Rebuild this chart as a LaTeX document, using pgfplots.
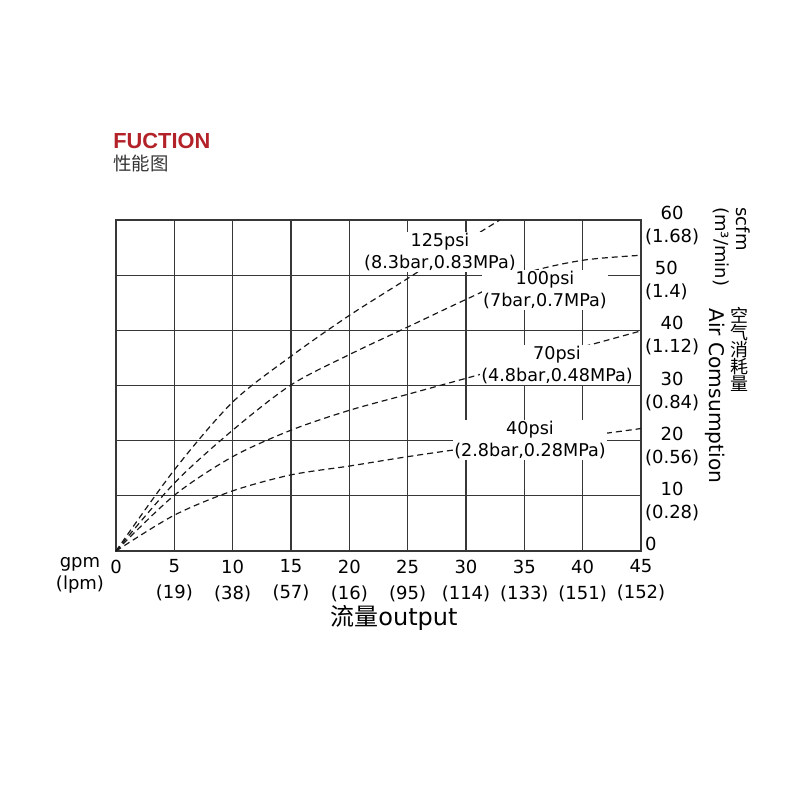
\documentclass[border=0pt]{standalone}
\usepackage{pgfplots}
\pgfplotsset{compat=1.18}
\usepackage{fontspec}
\setmainfont{DejaVu Sans}
\newfontfamily\cjk{Noto Sans CJK SC}
\newfontfamily\titlefont{Liberation Sans}
\definecolor{gridc}{RGB}{55,55,55}
\definecolor{titlered}{RGB}{178,34,40}
\begin{document}
\begin{tikzpicture}[x=1pt,y=1pt]
\path[use as bounding box] (0,0) rectangle (400,400);
\begin{axis}[
  at={(58pt,124.5pt)}, anchor=south west,
  scale only axis, width=262.5pt, height=165.5pt,
  xmin=0, xmax=45, ymin=0, ymax=60,
  xtick={0,5,10,15,20,25,30,35,40,45},
  ytick={0,10,20,30,40,50,60},
  xticklabels={0,{5\\(19)},{10\\(38)},{15\\(57)},{20\\(16)},{25\\(95)},{30\\(114)},{35\\(133)},{40\\(151)},{45\\(152)}},
  yticklabels={{0\\\phantom{(}},{10\\(0.28)},{20\\(0.56)},{30\\(0.84)},{40\\(1.12)},{50\\(1.4)},{60\\(1.68)}},
  yticklabel pos=right,
  grid=major,
  major grid style={gridc, line width=0.65pt},
  axis line style={gridc, line width=0.65pt},
  major tick length=0pt,
  xticklabel style={align=center, font=\fontsize{9}{13}\selectfont, anchor=north, yshift=-0.8pt},
  yticklabel style={align=center, font=\fontsize{9}{11.5}\selectfont, anchor=west, xshift=-1.5pt, yshift=-2.8pt},
  /pgf/number format/assume math mode=true,
  clip=false,
]
% 125 psi
\addplot[smooth, black!90, line width=0.6pt, dash pattern=on 3pt off 2pt] coordinates {
(0,0) (5,14.7) (10,27.0) (15,35.3) (20,42.7) (25,49.4) (30,56.2) (32.9,60)};
% 100 psi
\addplot[smooth, black!90, line width=0.6pt, dash pattern=on 3pt off 2pt] coordinates {
(0,0) (5,12.3) (10,21.9) (15,30.1) (20,35.6) (25,40.6) (30,45.6) (35,50.3) (40,52.7) (45,53.6)};
% 70 psi
\addplot[smooth, black!90, line width=0.6pt, dash pattern=on 3pt off 2pt] coordinates {
(0,0) (5,10.1) (10,17.1) (15,21.9) (20,25.5) (25,28.4) (30,31.3) (35,34.2) (40,37.0) (45,39.9)};
% 40 psi
\addplot[smooth, black!90, line width=0.6pt, dash pattern=on 3pt off 2pt] coordinates {
(0,0) (5,6.5) (10,10.9) (15,13.8) (20,15.4) (25,17.1) (30,18.6) (35,19.7) (40,20.8) (45,22.2)};

\node[fill=white, inner sep=0.5pt, align=center, font=\fontsize{8.8}{11}\selectfont] at (axis cs:27.77,54.2) {125psi\\(8.3bar,0.83MPa)};
\node[fill=white, inner sep=0.5pt, align=center, font=\fontsize{8.8}{11}\selectfont] at (axis cs:36.77,47.3) {100psi\\(7bar,0.7MPa)};
\node[fill=white, inner sep=0.5pt, align=center, font=\fontsize{8.8}{11}\selectfont] at (axis cs:37.8,33.7) {70psi\\(4.8bar,0.48MPa)};
\node[fill=white, inner sep=0.5pt, align=center, font=\fontsize{8.8}{11}\selectfont] at (axis cs:35.49,20.1) {40psi\\(2.8bar,0.28MPa)};
\end{axis}
\node[anchor=base west, inner sep=0, text=titlered, font={\titlefont\bfseries\fontsize{10.9}{13}\selectfont}] at (56.5,325.85) {FUCTION};
\node[anchor=base west, inner sep=0, text=black!80, font={\cjk\fontsize{9.2}{11}\selectfont}] at (56.5,314.5) {性能图};
\node[align=center, inner sep=0, font=\fontsize{9}{11}\selectfont] at (40,112.5) {gpm\\(lpm)};
\node[rotate=-90, anchor=west, align=left, inner sep=0, font=\fontsize{9}{10.5}\selectfont] at (365.75,296.5) {scfm\\(m³/min)};
\node[rotate=-90, anchor=west, inner sep=0, font=\fontsize{10.1}{12}\selectfont] at (357.5,246) {Air Comsumption};
\node[anchor=north, align=center, inner sep=0, font={\cjk\fontsize{9}{8.5}\selectfont}] at (369.5,246.5) {空\\气\\消\\耗\\量};
\node[anchor=base, inner sep=0, font=\fontsize{12}{14}\selectfont] at (197,87) {{\cjk 流量}output};
\end{tikzpicture}
\end{document}
